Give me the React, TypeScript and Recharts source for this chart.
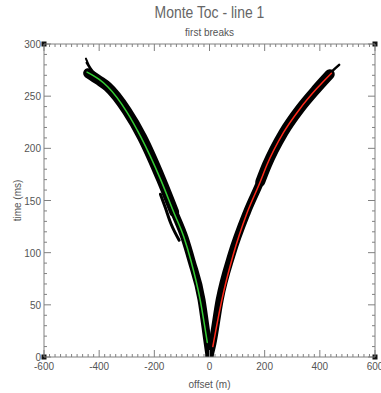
import React from "react";
import {
  ComposedChart,
  Line,
  XAxis,
  YAxis,
  ReferenceDot,
} from "recharts";

// Monte Toc - line 1 : first breaks picking (black) with fitted curves (green / red)

// fitted curve, negative offsets (green)
const leftFitOffset = [-444, -400, -369, -300, -249, -177, -130, -93, -68, -34, -8];
const leftFitTime = [273, 266, 259, 235, 211, 170, 139, 115, 93, 55, 14];

// fitted curve, positive offsets (red)
const rightFitOffset = [12, 45, 85, 136, 184, 208, 268, 328, 388, 442];
const rightFitTime = [10, 55, 97, 138, 168, 184, 215, 238, 257, 272];

// picked first breaks (black band), centre of the cloud
const leftPickOffset = [-440, -400, -369, -300, -245, -175, -128, -90, -65, -29, -8, 0];
const leftPickTime = [272, 265, 259, 236, 211, 170, 139, 114, 92, 55, 16, 1];
const rightPickOffset = [0, 10, 37, 80, 136, 184, 208, 268, 328, 388, 436];
const rightPickTime = [1, 12, 55, 98, 139, 168, 184, 215, 238, 257, 271];

// loose strands of picks
const tipStrandOffset = [-448, -438, -420, -400];
const tipStrandTime = [286, 280, 273, 267];
const tipStrand2Offset = [-446, -432, -414];
const tipStrand2Time = [282, 276, 270];
const rightTipOffset = [420, 445, 470];
const rightTipTime = [267, 274, 280];
const strayOffset = [-178, -160, -140, -110];
const strayTime = [156, 143, 128, 112];

// axes
const offsetDomain = [-600, 600];
const timeDomain = [0, 300];
const offsetTicks = Array.from({ length: 61 }, (_, i) => -600 + i * 20);
const timeTicks = Array.from({ length: 31 }, (_, i) => i * 10);

const zip = (xs: number[], ys: number[]) => xs.map((x, i) => ({ x, t: ys[i] }));

const leftFit = zip(leftFitOffset, leftFitTime);
const rightFit = zip(rightFitOffset, rightFitTime);
const leftPick = zip(leftPickOffset, leftPickTime);
const rightPick = zip(rightPickOffset, rightPickTime);
// the cloud gets wider at far offsets
const leftPickFar = leftPick.filter((p) => p.t >= 139);
const rightPickFar = rightPick.filter((p) => p.t >= 168);
const tipStrand = zip(tipStrandOffset, tipStrandTime);
const tipStrand2 = zip(tipStrand2Offset, tipStrand2Time);
const rightTip = zip(rightTipOffset, rightTipTime);
const stray = zip(strayOffset, strayTime);

const FONT = "'Liberation Sans', Arial, sans-serif";
const AXIS = "#808080";
const TEXT = "#555";

const XTick = (props: any) => {
  const { x, y, payload, side } = props;
  const v = payload.value;
  const major = v % 200 === 0;
  const len = major ? 7 : 3;
  const dir = side === "bottom" ? -1 : 1;
  return (
    <g>
      <line x1={x} x2={x} y1={y} y2={y + dir * len} stroke={AXIS} strokeWidth={1} />
      {side === "bottom" && major && (
        <text x={x} y={y + 13} textAnchor="middle" fontSize={10} fill={TEXT} fontFamily={FONT}>
          {v}
        </text>
      )}
    </g>
  );
};

const YTick = (props: any) => {
  const { x, y, payload, side } = props;
  const v = payload.value;
  const major = v % 50 === 0;
  const len = major ? 7 : 3;
  const dir = side === "left" ? 1 : -1;
  return (
    <g>
      <line x1={x} x2={x + dir * len} y1={y} y2={y} stroke={AXIS} strokeWidth={1} />
      {side === "left" && major && (
        <text x={x - 3} y={y + 4} textAnchor="end" fontSize={10} fill={TEXT} fontFamily={FONT}>
          {v}
        </text>
      )}
    </g>
  );
};

const Corner = (props: any) => (
  <rect x={props.cx - 2.5} y={props.cy - 2.5} width={5} height={5} fill="#111" />
);

const band = (data: any[], w: number, color = "#000") => (
  <Line
    xAxisId="b"
    yAxisId="l"
    data={data}
    dataKey="t"
    type="monotone"
    stroke={color}
    strokeWidth={w}
    strokeLinecap="round"
    dot={false}
    isAnimationActive={false}
  />
);

export default function App() {
  return (
    <div style={{ position: "absolute", left: 0, top: 0, width: 381, height: 393, background: "#fff" }}>
      <div
        style={{
          position: "absolute",
          left: 0,
          width: 419,
          top: 3,
          textAlign: "center",
          fontFamily: FONT,
          fontSize: 17,
          color: "#666",
          transform: "scaleX(0.82)",
          transformOrigin: "209px 0",
        }}
      >
        Monte Toc - line 1
      </div>
      <div
        style={{
          position: "absolute",
          left: 0,
          width: 419,
          top: 27,
          textAlign: "center",
          fontFamily: FONT,
          fontSize: 10,
          color: TEXT,
        }}
      >
        first breaks
      </div>
      <ComposedChart
        width={381}
        height={393}
        margin={{ top: 43, right: 5, bottom: 0, left: 0 }}
        style={{ position: "absolute", left: 0, top: 0 }}
      >
        <XAxis
          xAxisId="b"
          type="number"
          dataKey="x"
          domain={offsetDomain}
          ticks={offsetTicks}
          interval={0}
          tickSize={0}
          tickMargin={0}
          height={36}
          allowDataOverflow
          stroke={AXIS}
          tick={<XTick side="bottom" />}
          label={{ value: "offset (m)", position: "insideBottom", offset: 5, fontSize: 10, fill: TEXT, fontFamily: FONT }}
        />
        <XAxis
          xAxisId="t"
          orientation="top"
          type="number"
          dataKey="x"
          domain={offsetDomain}
          ticks={offsetTicks}
          interval={0}
          tickSize={0}
          tickMargin={0}
          height={1}
          allowDataOverflow
          stroke={AXIS}
          tick={<XTick side="top" />}
        />
        <YAxis
          yAxisId="l"
          type="number"
          dataKey="t"
          domain={timeDomain}
          ticks={timeTicks}
          interval={0}
          tickSize={0}
          tickMargin={0}
          width={44}
          allowDataOverflow
          stroke={AXIS}
          tick={<YTick side="left" />}
          label={{
            value: "time (ms)",
            angle: -90,
            position: "insideLeft",
            offset: 17,
            fontSize: 10,
            fill: TEXT,
            fontFamily: FONT,
            style: { textAnchor: "middle" },
          }}
        />
        <YAxis
          yAxisId="r"
          orientation="right"
          type="number"
          dataKey="t"
          domain={timeDomain}
          ticks={timeTicks}
          interval={0}
          tickSize={0}
          tickMargin={0}
          width={1}
          allowDataOverflow
          stroke={AXIS}
          tick={<YTick side="right" />}
        />

        {band(leftPick, 8)}
        {band(rightPick, 8)}
        {band(leftPickFar, 10)}
        {band(rightPickFar, 10)}
        {band(tipStrand, 2)}
        {band(tipStrand2, 2)}
        {band(rightTip, 2.5)}
        {band(stray, 3)}
        {band(leftFit, 1.5, "#33cc33")}
        {band(rightFit, 1.5, "#ff2a1a")}

        {[offsetDomain[0], offsetDomain[1]].map((xv) =>
          [timeDomain[0], timeDomain[1]].map((tv) => (
            <ReferenceDot key={`${xv}-${tv}`} xAxisId="b" yAxisId="l" x={xv} y={tv} r={2.5} shape={Corner} ifOverflow="visible" />
          ))
        )}
      </ComposedChart>
    </div>
  );
}
